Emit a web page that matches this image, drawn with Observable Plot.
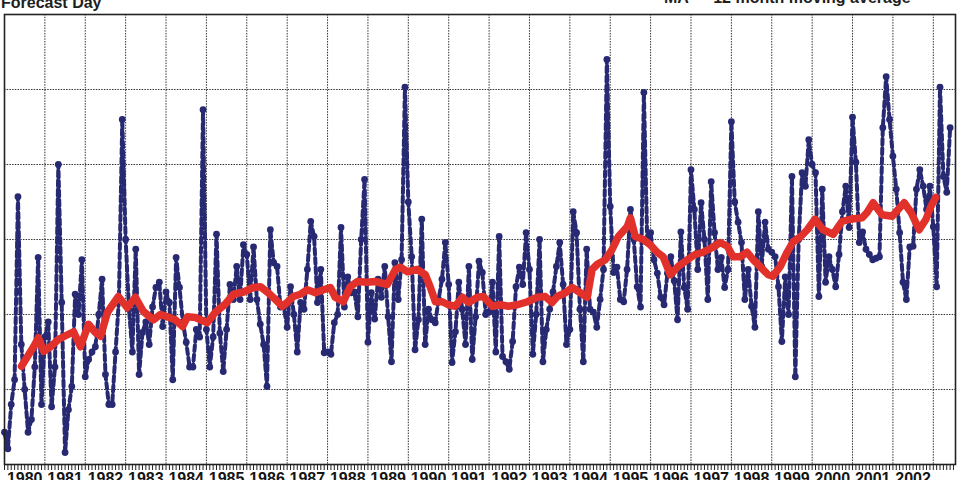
<!DOCTYPE html>
<html><head><meta charset="utf-8">
<script src="https://cdn.jsdelivr.net/npm/d3@7"></script>
<script src="https://cdn.jsdelivr.net/npm/@observablehq/plot@0.6"></script>
<style>
html,body{margin:0;padding:0;background:#fff;overflow:hidden}
#wrap{position:relative;width:976px;height:480px;overflow:hidden;background:#fff}
.ttl{position:absolute;font:bold 16px "Liberation Sans",Arial,sans-serif;color:#1e1e1e;white-space:nowrap;z-index:2}
#chart svg{display:block}
#chart svg .yl text{font-weight:bold}
</style></head><body>
<div id="wrap">
  <div class="ttl" style="left:1px;top:-6px">Forecast Day</div>
  <div class="ttl" style="left:664px;top:-11px">MA — 12 month moving average</div>
  <div id="chart"></div>
</div>
<script>
// Monthly values, January 1980 onward (one value per month)
const startYear = 1980;
const monthly = [
  0.43, 0.21, 0.8, 1.13, 3.57, 1.6, 1.0, 0.43, 0.6, 1.3, 2.76, 0.8,
  1.7, 1.9, 0.77, 1.3, 4.0, 2.16, 0.16, 0.73, 1.04, 2.27, 2.0, 2.73,
  1.17, 1.4, 1.5, 1.57, 2.0, 2.47, 1.2, 0.8, 0.8, 1.5, 2.2, 4.6,
  3.0, 2.07, 1.5, 2.87, 1.2, 1.76, 1.9, 1.6, 2.1, 2.36, 2.43, 1.84,
  2.3, 2.16, 1.13, 2.76, 2.36, 1.9, 1.63, 1.3, 1.3, 1.8, 1.7, 4.73,
  1.8, 1.3, 1.7, 3.07, 1.75, 1.24, 1.8, 2.4, 2.2, 2.64, 2.2, 2.93,
  2.8, 2.2, 2.9, 2.2, 1.87, 1.6, 1.04, 3.13, 2.69, 2.64, 2.1, 2.1,
  1.83, 2.37, 2.0, 1.5, 2.16, 2.07, 2.6, 3.24, 3.04, 2.16, 2.6, 1.49,
  1.5, 1.47, 1.89, 2.0, 3.16, 2.1, 2.5, 2.29, 2.3, 1.97, 3.0, 3.8,
  1.63, 2.29, 1.94, 2.47, 2.23, 2.64, 1.97, 1.37, 2.69, 2.2, 2.73, 5.03,
  3.5, 2.77, 1.53, 1.93, 3.27, 1.6, 2.07, 1.93, 1.89, 2.2, 2.47, 2.96,
  2.4, 1.36, 1.77, 2.43, 2.07, 1.6, 2.64, 1.4, 1.97, 2.71, 2.56, 2.0,
  2.03, 2.43, 1.5, 3.04, 1.44, 1.37, 1.27, 1.64, 2.37, 2.63, 2.4, 3.09,
  2.6, 1.47, 2.0, 3.0, 1.37, 1.8, 2.07, 2.3, 2.64, 2.96, 2.4, 1.6,
  1.8, 3.37, 3.09, 2.07, 1.37, 2.87, 2.07, 2.03, 1.83, 2.2, 2.6, 5.4,
  3.44, 2.56, 2.63, 2.2, 2.17, 2.6, 3.4, 3.0, 2.37, 2.1, 4.96, 2.96,
  3.09, 2.73, 2.55, 2.23, 2.13, 2.55, 2.77, 2.45, 1.93, 3.1, 2.36, 2.07,
  3.93, 3.4, 2.6, 3.49, 3.0, 2.2, 3.77, 3.09, 2.6, 2.76, 2.36, 2.6,
  4.57, 3.5, 3.23, 2.96, 2.2, 2.6, 2.11, 1.83, 3.37, 2.64, 3.23, 2.87,
  2.83, 2.77, 2.37, 1.64, 2.5, 2.0, 3.84, 1.17, 3.0, 3.89, 3.71, 4.33,
  4.0, 3.89, 2.24, 3.67, 2.43, 2.77, 2.6, 2.37, 2.8, 3.37, 3.71, 3.16,
  4.63, 4.03, 2.96, 3.1, 2.87, 2.8, 2.73, 2.75, 2.77, 4.49, 5.17, 4.6,
  4.11, 3.67, 3.09, 2.43, 2.2, 2.9, 2.91, 3.67, 3.93, 3.71, 3.4, 3.71,
  3.17, 2.37, 5.03, 3.84, 3.63, 4.49
];

// 12-month moving average (red)
const maYear = [
  1980.42,1980.57,1980.72,1980.84,1980.97,1981.14,1981.34,1981.56,1981.71,1981.88,
  1982.08,1982.25,1982.38,1982.55,1982.82,1983.04,1983.24,1983.44,1983.69,1983.86,
  1984.03,1984.23,1984.41,1984.53,1984.73,1985.02,1985.22,1985.47,1985.67,1985.92,
  1986.16,1986.34,1986.53,1986.71,1986.88,1987.00,1987.15,1987.33,1987.50,1987.70,
  1987.90,1988.07,1988.19,1988.39,1988.56,1988.74,1988.99,1989.18,1989.48,1989.68,
  1989.80,1989.98,1990.22,1990.42,1990.54,1990.67,1990.84,1990.99,1991.16,1991.34,
  1991.49,1991.71,1991.86,1992.08,1992.28,1992.48,1992.70,1992.95,1993.19,1993.39,
  1993.56,1993.69,1993.89,1994.06,1994.26,1994.43,1994.55,1994.68,1994.88,1995.05,
  1995.20,1995.42,1995.50,1995.62,1995.82,1995.99,1996.16,1996.31,1996.49,1996.68,
  1996.91,1997.10,1997.30,1997.52,1997.72,1997.90,1998.04,1998.22,1998.39,1998.54,
  1998.71,1998.91,1999.03,1999.21,1999.38,1999.53,1999.70,1999.88,2000.07,2000.27,
  2000.52,2000.74,2000.94,2001.24,2001.36,2001.51,2001.73,2001.98,2002.13,2002.28,
  2002.45,2002.65,2002.82,2002.94,2003.06
];
const maValue = [
  1.31,1.44,1.57,1.69,1.51,1.57,1.67,1.73,1.77,1.57,
  1.87,1.76,1.71,2.03,2.24,2.09,2.23,2.04,1.93,2.0,
  1.97,1.93,1.84,1.97,1.96,1.89,2.03,2.14,2.27,2.3,
  2.36,2.37,2.29,2.2,2.11,2.16,2.24,2.27,2.33,2.29,
  2.33,2.36,2.23,2.17,2.37,2.44,2.43,2.44,2.4,2.6,
  2.63,2.57,2.6,2.53,2.37,2.17,2.17,2.13,2.11,2.23,
  2.16,2.23,2.24,2.11,2.13,2.11,2.13,2.17,2.23,2.24,
  2.16,2.24,2.29,2.36,2.29,2.23,2.6,2.67,2.73,2.87,
  3.04,3.17,3.29,3.04,3.0,2.93,2.83,2.77,2.53,2.64,
  2.73,2.8,2.83,2.89,2.96,2.91,2.77,2.77,2.83,2.73,
  2.64,2.53,2.51,2.64,2.83,2.97,3.03,3.13,3.27,3.13,
  3.07,3.24,3.27,3.29,3.36,3.49,3.33,3.31,3.4,3.49,
  3.36,3.13,3.27,3.44,3.56
];

// Year labels along the bottom
const yearLabels = d3.range(1980, 2003);

const navy = "#272a72";
const red = "#e2302a";
const gridColor = "#333333";

const rows = monthly.map((v, i) => ({t: startYear + i / 12, v}));
const maRows = maYear.map((t, i) => ({t, v: maValue[i]}));
const monthTicks = d3.range(0, 283).map(i => startYear + i / 12);

const chart = Plot.plot({
  width: 976,
  height: 480,
  marginLeft: 4,
  marginRight: 21,
  marginTop: 14,
  marginBottom: 16,
  style: {background: "transparent", fontFamily: "'Liberation Sans', Arial, sans-serif"},
  x: {type: "linear", domain: [1980, 2003.55], axis: null},
  y: {domain: [0, 6], axis: null},
  marks: [
    Plot.gridY(d3.range(1, 6), {stroke: gridColor, strokeOpacity: 1, strokeWidth: 1, strokeDasharray: "1.5,1.2"}),
    Plot.gridX(d3.range(1981, 2004), {stroke: gridColor, strokeOpacity: 1, strokeWidth: 1, strokeDasharray: "1.5,1.2"}),
    Plot.line(rows, {x: "t", y: "v", stroke: navy, strokeWidth: 4, strokeDasharray: "6,3.5"}),
    Plot.dot(rows, {x: "t", y: "v", r: 3.4, fill: navy, stroke: "none"}),
    Plot.line(maRows, {x: "t", y: "v", stroke: red, strokeWidth: 7.5, strokeLinejoin: "round", strokeLinecap: "round"}),
    Plot.frame({stroke: "#222", strokeWidth: 1.6}),
    Plot.axisX(monthTicks, {label: null, tickSize: 6, tickFormat: () => "", stroke: "#222", strokeWidth: 1}),
    Plot.axisX(yearLabels.map(y => y + 0.5), {
      label: null, className: "yl",
      tickSize: 0, tickPadding: 8,
      tickFormat: d => String(Math.floor(d)),
      fontSize: 16, fontWeight: "bold", fill: "#151515"
    })
  ]
});
document.getElementById("chart").appendChild(chart);
</script>
</body></html>
